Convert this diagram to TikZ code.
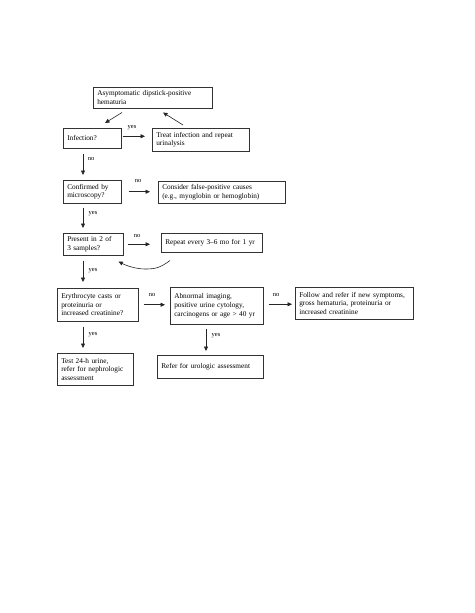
\documentclass[tikz,border=0pt]{standalone}
\usepackage{fontspec}
\setmainfont{Liberation Serif}
\usetikzlibrary{arrows.meta,calc}
\hyphenpenalty=10000
\exhyphenpenalty=10000
\begin{document}
\begin{tikzpicture}[x=1pt,y=-1pt,
  box/.style={draw=black!80, line width=0.5pt, anchor=north west, inner xsep=4pt, inner ysep=1pt,
    align=left, font=\fontsize{7.3}{8.6}\selectfont},
  arr/.style={draw=black!85, line width=0.6pt, -{Triangle[length=4.5pt,width=4pt]}},
  lbl/.style={font=\fontsize{6.5}{7}\selectfont, inner sep=0pt}]
\useasboundingbox (0,0) rectangle (474,613);
\fill[white] (0,0) rectangle (474,613);
% boxes
\node[box, minimum width=119pt, minimum height=21pt, text width=111pt] (top) at (93,87) {Asymptomatic dipstick-positive\\hematuria};
\node[box, minimum width=58pt, minimum height=20pt, text width=50pt] (inf) at (63,128) {Infection?};
\node[box, minimum width=97pt, minimum height=23pt, text width=89pt] (treat) at (152,128) {Treat infection and repeat\\urinalysis};
\node[box, minimum width=58pt, minimum height=23pt, text width=50pt] (conf) at (63,180) {Confirmed by\\microscopy?};
\node[box, minimum width=127pt, minimum height=22pt, text width=119pt] (cons) at (158,181) {Consider false-positive causes\\(e.g., myoglobin or hemoglobin)};
\node[box, minimum width=60pt, minimum height=22pt, text width=52pt] (pres) at (63,233) {Present in 2 of\\3 samples?};
\node[box, minimum width=101pt, minimum height=19pt, text width=93pt] (rep) at (161,233) {Repeat every 3--6 mo for 1 yr};
\node[box, minimum width=81pt, minimum height=33pt, text width=73pt] (ery) at (57,288) {Erythrocyte casts or\\proteinuria or\\increased creatinine?};
\node[box, minimum width=93pt, minimum height=37pt, text width=85pt] (abn) at (170,287) {Abnormal imaging,\\positive urine cytology,\\carcinogens or age > 40 yr};
\node[box, minimum width=118pt, minimum height=32pt, text width=110pt] (fol) at (295,287) {Follow and refer if new symptoms,\\gross hematuria, proteinuria or\\increased creatinine};
\node[box, minimum width=76pt, minimum height=32pt, text width=68pt] (test) at (57,353) {Test 24-h urine,\\refer for nephrologic\\assessment};
\node[box, minimum width=106pt, minimum height=23pt, text width=98pt] (ref) at (157,355) {Refer for urologic assessment};
% diagonal arrows
\draw[arr] ([xshift=29pt,yshift=-4pt]top.south west) -- ([xshift=42pt,yshift=5pt]inf.north west);
\draw[arr] ([xshift=31pt,yshift=3pt]treat.north west) -- ([xshift=70pt,yshift=-4pt]top.south west);
% horizontal arrows
\draw[arr] ([yshift=2pt,xshift=1pt]inf.east) -- ([yshift=2pt,xshift=-7pt]inf.east -| treat.west);
\draw[arr] ([xshift=7pt]conf.east) -- ([xshift=-8pt]conf.east -| cons.west);
\draw[arr] ([xshift=4pt]pres.east) -- ([xshift=-11pt]pres.east -| rep.west);
\draw[arr] ([xshift=5pt]ery.east) -- ([xshift=-5pt]ery.east -| abn.west);
\draw[arr] ([xshift=5pt,yshift=1.5pt]abn.east) -- ([xshift=-3pt,yshift=1.5pt]abn.east -| fol.west);
% vertical arrows
\draw[arr] ([xshift=20pt,yshift=-5pt]inf.south west) -- ([xshift=20pt,yshift=5pt]conf.north west);
\draw[arr] ([xshift=20pt,yshift=-4pt]conf.south west) -- ([xshift=20pt,yshift=5pt]pres.north west);
\draw[arr] ([xshift=20pt,yshift=-5pt]pres.south west) -- ([xshift=26pt,yshift=6pt]ery.north west);
\draw[arr] ([xshift=26pt,yshift=-5pt]ery.south west) -- ([xshift=26pt,yshift=5pt]test.north west);
\draw[arr] ([xshift=36pt,yshift=-4pt]abn.south west) -- ([xshift=49pt,yshift=4pt]ref.north west);
% curved return arrow
\coordinate (cmid) at (145,269);
\draw[arr] ([xshift=9pt,yshift=-8pt]rep.south west) .. controls (160,268) and (155,269) .. (cmid)
  .. controls (135,269) and (125,265) .. ([xshift=-5pt,yshift=-6pt]pres.south east);
% labels
\node[lbl] (l1) at (132,128) {yes};
\node[lbl] (l2) at (91,159) {no};
\node[lbl] (l3) at (138,181) {no};
\node[lbl] (l4) at (93,214) {yes};
\node[lbl] (l5) at (137,236) {no};
\node[lbl] (l6) at (93,271) {yes};
\node[lbl] (l7) at (152,295) {no};
\node[lbl] (l8) at (276,295) {no};
\node[lbl] (l9) at (93,335) {yes};
\node[lbl] (l10) at (216,336) {yes};
\end{tikzpicture}
\end{document}
